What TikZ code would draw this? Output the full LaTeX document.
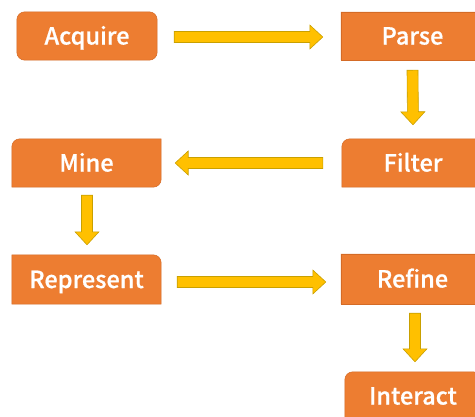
\documentclass[tikz,border=0pt]{standalone}
\usepackage{fontspec}
\newfontfamily\stagefont{Noto Sans CJK JP}[UprightFont=* Medium, FakeBold=0.7]
\usetikzlibrary{calc,backgrounds}

\definecolor{boxorange}{HTML}{ED7D31}
\definecolor{boxedge}{HTML}{D46B26}
\definecolor{arrowgold}{HTML}{FFC000}
\definecolor{arrowedge}{HTML}{C9A000}

\tikzset{
  stage/.style={inner sep=0pt, text=white,
    font=\stagefont\fontsize{23.5}{28}\selectfont,
    text height=17pt, text depth=0pt},
  stagefill/.style={fill=boxorange, draw=boxedge, line width=0.5pt},
  blockarrow/.style={fill=arrowgold, draw=arrowedge, line width=0.6pt, line join=miter},
}

% box outline with its own radius at each corner: NW, NE, SE, SW
\newcommand\stageshape[5]{%
  \path[stagefill] ([yshift=-#2]#1.north west) arc[start angle=180,end angle=90,radius=#2]
    -- ([xshift=-#3]#1.north east) arc[start angle=90,end angle=0,radius=#3]
    -- ([yshift=#4]#1.south east) arc[start angle=0,end angle=-90,radius=#4]
    -- ([xshift=#5]#1.south west) arc[start angle=270,end angle=180,radius=#5]
    -- cycle;}

% wide block arrow from #1 to #2
\newcommand\flowarrow[2]{%
  \path ($(#2)!13pt!(#1)$) coordinate (ah);
  \path[blockarrow] ($(#1)!5.5pt!90:(#2)$) -- ($(ah)!5.5pt!-90:(#1)$)
    -- ($(ah)!12pt!-90:(#1)$) -- (#2) -- ($(ah)!12pt!90:(#1)$)
    -- ($(ah)!5.5pt!90:(#1)$) -- ($(#1)!5.5pt!-90:(#2)$) -- cycle;}

\begin{document}
\begin{tikzpicture}[x=1pt,y=-1pt]
\useasboundingbox (0,0) rectangle (475,416);

% stages
\node[stage, minimum width=140pt, minimum height=48pt] (acq)    at (87,36)      {Acquire};
\node[stage, minimum width=143pt, minimum height=48pt] (parse)  at (412.5,36)   {Parse};
\node[stage, minimum width=142pt, minimum height=48pt] (filter) at (413,163)    {Filter};
\node[stage, minimum width=149pt, minimum height=48pt] (mine)   at (86.5,163)   {Mine};
\node[stage, minimum width=149pt, minimum height=49pt] (rep)    at (86.5,279.5) {Represent};
\node[stage, minimum width=143pt, minimum height=50pt] (refine) at (412.5,279)  {Refine};
\node[stage, minimum width=136pt, minimum height=48pt] (inter)  at (413,396)    {Interact};

\begin{scope}[on background layer]
  \fill[white] (0,0) rectangle (475,416);
  \stageshape{acq}{8pt}{8pt}{8pt}{8pt}
  \stageshape{parse}{0pt}{0pt}{0pt}{0pt}
  \stageshape{filter}{8pt}{0pt}{0pt}{0pt}
  \stageshape{mine}{8pt}{0pt}{8pt}{0pt}
  \stageshape{rep}{0pt}{8pt}{0pt}{0pt}
  \stageshape{refine}{0pt}{0pt}{0pt}{0pt}
  \stageshape{inter}{8pt}{8pt}{0pt}{0pt}
\end{scope}

% arrow ends
\coordinate (e1s) at ([xshift=17pt,yshift=-1pt]acq.east);
\coordinate (e1e) at ([xshift=-18pt,yshift=-1pt]parse.west);
\coordinate (e2s) at ([yshift=-10pt]parse.south);
\coordinate (e2e) at ([yshift=14pt]filter.north);
\coordinate (e3s) at ([xshift=-19pt]filter.west);
\coordinate (e3e) at ([xshift=14pt]mine.east);
\coordinate (e4s) at ([xshift=0.5pt,yshift=-8pt]mine.south);
\coordinate (e4e) at ([xshift=0.5pt,yshift=10pt]rep.north);
\coordinate (e5s) at ([xshift=16pt,yshift=-2.5pt]rep.east);
\coordinate (e5e) at ([xshift=-15pt,yshift=-3pt]refine.west);
\coordinate (e6s) at ([xshift=2.5pt,yshift=-9pt]refine.south);
\coordinate (e6e) at ([xshift=2pt,yshift=10pt]inter.north);

\flowarrow{e1s}{e1e}
\flowarrow{e2s}{e2e}
\flowarrow{e3s}{e3e}
\flowarrow{e4s}{e4e}
\flowarrow{e5s}{e5e}
\flowarrow{e6s}{e6e}
\end{tikzpicture}
\end{document}
